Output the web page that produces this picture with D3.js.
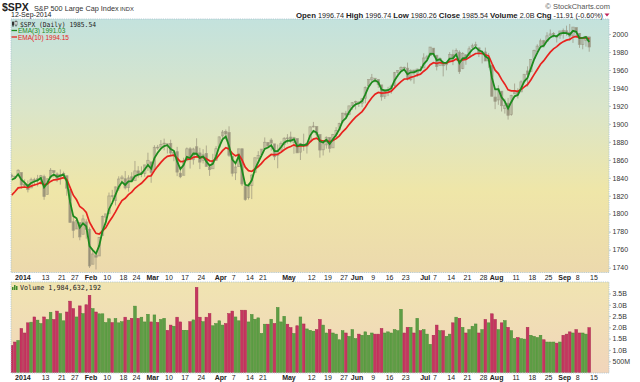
<!DOCTYPE html>
<html><head><meta charset="utf-8">
<script src="https://cdn.jsdelivr.net/npm/d3@7"></script>
<style>body{margin:0;background:#fff}svg{display:block}</style>
</head><body><svg id="c" width="640" height="382"></svg>
<script>
// ---------------- DATA ----------------
// closes before the visible window (used only to warm up the EMAs)
const warmupCloses = [1800.90,1795.15,1792.81,1785.03,1805.09,1808.37,1802.62,1782.22,1775.50,1775.32,1786.54,1781.00,1810.65,1809.60,1818.32,1827.99,1833.32,1842.02];

const dates = [
"2013-12-27","2013-12-30","2013-12-31",
"2014-01-02","2014-01-03","2014-01-06","2014-01-07","2014-01-08","2014-01-09","2014-01-10","2014-01-13","2014-01-14","2014-01-15","2014-01-16","2014-01-17","2014-01-21","2014-01-22","2014-01-23","2014-01-24","2014-01-27","2014-01-28","2014-01-29","2014-01-30","2014-01-31",
"2014-02-03","2014-02-04","2014-02-05","2014-02-06","2014-02-07","2014-02-10","2014-02-11","2014-02-12","2014-02-13","2014-02-14","2014-02-18","2014-02-19","2014-02-20","2014-02-21","2014-02-24","2014-02-25","2014-02-26","2014-02-27","2014-02-28",
"2014-03-03","2014-03-04","2014-03-05","2014-03-06","2014-03-07","2014-03-10","2014-03-11","2014-03-12","2014-03-13","2014-03-14","2014-03-17","2014-03-18","2014-03-19","2014-03-20","2014-03-21","2014-03-24","2014-03-25","2014-03-26","2014-03-27","2014-03-28","2014-03-31",
"2014-04-01","2014-04-02","2014-04-03","2014-04-04","2014-04-07","2014-04-08","2014-04-09","2014-04-10","2014-04-11","2014-04-14","2014-04-15","2014-04-16","2014-04-17","2014-04-21","2014-04-22","2014-04-23","2014-04-24","2014-04-25","2014-04-28","2014-04-29","2014-04-30",
"2014-05-01","2014-05-02","2014-05-05","2014-05-06","2014-05-07","2014-05-08","2014-05-09","2014-05-12","2014-05-13","2014-05-14","2014-05-15","2014-05-16","2014-05-19","2014-05-20","2014-05-21","2014-05-22","2014-05-23","2014-05-27","2014-05-28","2014-05-29","2014-05-30",
"2014-06-02","2014-06-03","2014-06-04","2014-06-05","2014-06-06","2014-06-09","2014-06-10","2014-06-11","2014-06-12","2014-06-13","2014-06-16","2014-06-17","2014-06-18","2014-06-19","2014-06-20","2014-06-23","2014-06-24","2014-06-25","2014-06-26","2014-06-27","2014-06-30",
"2014-07-01","2014-07-02","2014-07-03","2014-07-07","2014-07-08","2014-07-09","2014-07-10","2014-07-11","2014-07-14","2014-07-15","2014-07-16","2014-07-17","2014-07-18","2014-07-21","2014-07-22","2014-07-23","2014-07-24","2014-07-25","2014-07-28","2014-07-29","2014-07-30","2014-07-31",
"2014-08-01","2014-08-04","2014-08-05","2014-08-06","2014-08-07","2014-08-08","2014-08-11","2014-08-12","2014-08-13","2014-08-14","2014-08-15","2014-08-18","2014-08-19","2014-08-20","2014-08-21","2014-08-22","2014-08-25","2014-08-26","2014-08-27","2014-08-28","2014-08-29",
"2014-09-02","2014-09-03","2014-09-04","2014-09-05","2014-09-08","2014-09-09","2014-09-10","2014-09-11","2014-09-12"];
const futureDates = ["2014-09-15","2014-09-16","2014-09-17","2014-09-18","2014-09-19","2014-09-22"];

const opens = [
1842.97,1841.47,1842.61,
1845.86,1833.21,1832.31,1828.71,1837.90,1839.00,1840.06,1841.26,1821.36,1840.52,1847.99,1844.23,1841.05,1844.71,1842.29,1826.96,1791.03,1783.00,1790.15,1777.17,1790.88,
1782.68,1743.82,1753.38,1752.99,1776.01,1796.20,1800.45,1820.12,1814.82,1828.46,1839.03,1838.90,1829.24,1841.07,1836.78,1847.66,1845.79,1844.90,1855.12,
1857.68,1849.23,1874.05,1874.18,1878.52,1877.86,1878.26,1866.15,1869.06,1845.07,1842.81,1858.92,1872.25,1860.09,1874.53,1867.67,1859.48,1867.09,1852.11,1850.07,1859.16,
1873.96,1886.61,1891.43,1890.25,1863.92,1845.48,1852.64,1872.28,1830.65,1818.18,1831.45,1846.01,1861.73,1865.79,1872.57,1879.32,1881.97,1877.72,1865.00,1870.78,1877.10,
1884.39,1885.30,1879.45,1883.69,1868.53,1877.39,1875.27,1880.03,1896.75,1897.13,1888.16,1871.19,1876.66,1884.88,1873.34,1888.19,1893.32,1902.01,1911.77,1910.60,1920.33,
1923.87,1923.07,1923.06,1928.52,1942.41,1948.97,1950.34,1949.37,1943.35,1930.80,1934.84,1937.15,1942.73,1957.50,1960.45,1962.92,1961.97,1949.27,1959.89,1956.56,1960.79,
1962.29,1973.06,1975.88,1984.22,1976.39,1965.10,1966.67,1965.76,1969.86,1977.36,1976.35,1979.75,1961.54,1976.93,1975.65,1985.32,1988.07,1984.60,1978.25,1980.03,1973.21,1965.14,
1929.80,1926.62,1936.34,1917.29,1923.03,1910.35,1933.43,1935.73,1935.60,1947.41,1958.87,1958.36,1972.73,1980.46,1986.82,1992.60,1991.74,1998.59,2000.54,1997.42,1998.45,
2004.07,2003.57,2001.67,1998.00,2007.17,2000.73,1988.41,1992.85,1996.74];
const highs = [
1844.89,1842.47,1849.44,
1845.86,1838.24,1837.16,1840.10,1840.02,1843.23,1843.15,1843.45,1839.26,1850.84,1847.99,1846.04,1849.31,1846.87,1842.29,1826.96,1795.98,1793.87,1790.15,1798.77,1793.88,
1784.83,1758.73,1755.79,1774.06,1798.03,1799.94,1823.54,1826.55,1830.25,1841.65,1842.87,1847.50,1842.79,1846.13,1858.71,1852.91,1852.65,1854.53,1867.92,
1857.68,1876.23,1876.53,1881.94,1883.57,1877.87,1882.35,1868.38,1874.40,1852.44,1862.30,1873.76,1874.14,1873.49,1883.97,1873.34,1871.87,1875.92,1855.55,1866.63,1875.18,
1885.84,1893.17,1893.80,1897.28,1864.04,1854.95,1872.43,1872.53,1835.07,1834.19,1844.02,1862.31,1869.63,1871.89,1884.89,1879.75,1884.06,1877.72,1877.01,1880.60,1885.20,
1888.59,1891.33,1885.51,1883.69,1878.83,1889.07,1878.57,1897.13,1902.17,1897.13,1888.16,1878.28,1886.00,1884.88,1888.80,1896.33,1901.26,1912.28,1914.46,1920.03,1924.03,
1925.88,1925.07,1928.63,1941.74,1949.44,1955.55,1950.86,1949.37,1943.35,1937.30,1941.15,1943.69,1957.74,1959.87,1963.91,1963.74,1968.17,1960.83,1959.89,1961.47,1964.24,
1978.58,1976.67,1985.59,1984.22,1976.39,1974.15,1969.84,1968.67,1979.85,1982.52,1983.94,1981.80,1979.91,1976.93,1986.24,1989.23,1991.39,1984.60,1981.52,1984.85,1978.90,1965.14,
1937.35,1942.92,1936.34,1927.91,1928.89,1932.38,1944.90,1939.65,1948.41,1955.23,1964.04,1971.99,1982.57,1988.57,1994.76,1993.54,2001.95,2005.04,2002.14,1998.55,2003.38,
2006.12,2009.28,2011.17,2007.71,2007.17,2001.01,1996.66,1997.65,1996.74];
const lows = [
1839.81,1838.77,1842.41,
1827.74,1829.13,1823.73,1828.71,1831.40,1830.38,1832.43,1815.52,1821.36,1840.52,1840.30,1835.23,1832.38,1840.88,1820.06,1790.29,1772.88,1783.00,1770.45,1777.17,1772.26,
1739.66,1743.82,1737.92,1752.99,1776.01,1791.83,1800.41,1815.97,1809.22,1825.59,1835.01,1826.99,1824.58,1835.60,1836.78,1840.19,1840.66,1841.13,1847.67,
1834.44,1849.23,1871.11,1874.18,1870.56,1867.04,1863.88,1858.39,1841.86,1839.57,1842.81,1858.92,1850.35,1854.63,1863.46,1849.69,1855.96,1852.56,1842.11,1850.07,1859.16,
1873.96,1883.79,1882.65,1863.26,1841.48,1837.49,1852.38,1830.87,1814.36,1815.80,1816.29,1846.01,1856.72,1863.18,1872.57,1873.91,1870.24,1859.70,1850.61,1870.78,1872.69,
1878.04,1878.50,1866.77,1867.72,1859.79,1870.05,1867.02,1880.03,1896.06,1885.77,1862.36,1864.82,1872.42,1868.14,1873.34,1885.39,1893.32,1902.01,1907.30,1909.82,1915.65,
1915.98,1918.79,1918.60,1922.93,1942.41,1947.16,1946.03,1940.08,1925.78,1927.69,1930.91,1933.55,1939.29,1952.26,1959.17,1958.89,1948.34,1947.49,1944.69,1952.18,1958.22,
1962.29,1972.58,1975.88,1974.88,1959.46,1965.10,1952.86,1959.63,1969.86,1965.34,1975.67,1955.59,1960.82,1965.77,1975.65,1982.44,1985.79,1974.37,1967.31,1969.95,1962.42,1930.67,
1916.37,1921.20,1913.77,1911.45,1904.78,1909.01,1933.43,1928.29,1935.60,1947.41,1941.50,1958.36,1972.73,1977.68,1986.82,1984.76,1991.74,1998.59,1996.20,1990.52,1994.65,
1994.85,1998.14,1992.54,1990.10,1995.60,1984.61,1982.99,1985.93,1980.26];
const closes = [
1841.40,1841.07,1848.36,
1831.98,1831.37,1826.77,1837.88,1837.49,1838.13,1842.37,1819.20,1838.88,1848.38,1845.89,1838.70,1843.80,1844.86,1828.46,1790.29,1781.56,1792.50,1774.20,1794.19,1782.59,
1741.89,1755.20,1751.64,1773.43,1797.02,1799.84,1819.75,1819.26,1829.83,1838.63,1840.76,1828.75,1839.78,1836.25,1847.61,1845.12,1845.16,1854.29,1859.45,
1845.73,1873.91,1873.81,1877.03,1878.04,1877.17,1867.63,1868.20,1846.34,1841.13,1858.83,1872.25,1860.77,1872.01,1866.52,1857.44,1865.62,1852.56,1849.04,1857.62,1872.34,
1885.52,1890.90,1888.77,1865.09,1845.04,1851.96,1872.18,1833.08,1815.69,1830.61,1842.98,1862.31,1864.85,1871.89,1879.55,1875.39,1878.61,1863.40,1869.43,1878.33,1883.95,
1883.68,1881.14,1884.66,1867.72,1878.21,1875.63,1878.48,1896.65,1897.45,1888.53,1870.85,1877.86,1885.08,1872.83,1888.03,1892.49,1900.53,1911.91,1909.78,1920.03,1923.57,
1924.97,1924.24,1927.88,1940.46,1949.44,1951.27,1950.79,1943.89,1930.11,1936.16,1937.78,1941.99,1956.98,1959.48,1962.87,1962.61,1949.98,1959.53,1957.22,1960.96,1960.23,
1973.32,1974.62,1985.44,1977.65,1963.71,1972.83,1964.68,1967.57,1977.10,1973.28,1981.57,1958.12,1978.22,1973.63,1983.53,1987.01,1987.98,1978.34,1978.91,1969.95,1970.07,1930.67,
1925.15,1938.99,1920.21,1920.24,1909.57,1931.59,1936.92,1933.75,1946.72,1955.18,1955.06,1971.74,1981.60,1986.51,1992.37,1988.40,1997.92,2000.02,2000.12,1996.74,2003.37,
2002.28,2000.72,1997.65,2007.71,2001.54,1988.44,1995.69,1997.45,1985.54];
// volume in billions of shares
const volumes = [
1.20,1.35,1.42,
1.95,1.75,2.20,2.23,2.46,2.32,2.17,2.46,2.35,2.67,2.35,2.72,2.61,2.29,2.68,3.16,2.83,2.46,2.95,2.61,3.00,
3.42,2.83,2.68,2.60,2.60,2.21,2.38,2.21,2.39,2.20,2.25,2.45,2.32,2.40,2.94,2.40,2.45,2.24,2.58,
2.24,2.55,2.22,2.35,2.40,1.87,2.10,2.05,2.45,2.24,1.87,1.87,2.25,2.33,3.77,2.45,2.25,2.45,2.61,2.07,2.17,
2.29,2.10,2.17,2.61,2.72,2.46,2.29,2.76,2.76,2.24,2.57,2.36,2.42,1.73,2.14,2.14,2.36,2.17,2.88,2.24,2.49,
2.14,1.99,1.73,2.07,2.46,2.15,1.93,1.87,1.83,1.90,2.35,2.10,1.75,1.90,1.75,1.70,1.45,1.85,1.75,1.60,1.90,
1.50,1.70,1.65,1.80,1.65,1.75,1.70,1.70,1.95,1.75,1.80,1.75,1.90,1.85,2.80,1.75,2.00,2.00,1.75,2.40,1.85,
1.90,1.70,1.25,1.65,2.10,1.85,1.85,1.60,1.70,2.20,2.45,2.40,2.00,1.75,1.90,2.05,2.15,1.75,1.90,2.35,2.20,2.60,
2.35,1.90,2.20,2.30,2.00,1.85,1.50,1.55,1.50,1.48,2.00,1.65,1.60,1.55,1.65,1.45,1.35,1.35,1.35,1.30,1.35,
1.65,1.70,1.80,1.75,1.90,1.75,1.75,1.70,1.984632192];

const tickDates  = ["2014-01-02","2014-01-13","2014-01-21","2014-01-27","2014-02-03","2014-02-10","2014-02-18","2014-02-24","2014-03-03","2014-03-10","2014-03-17","2014-03-24","2014-04-01","2014-04-07","2014-04-14","2014-04-21","2014-05-01","2014-05-12","2014-05-19","2014-05-27","2014-06-02","2014-06-09","2014-06-16","2014-06-23","2014-07-01","2014-07-07","2014-07-14","2014-07-21","2014-07-28","2014-08-01","2014-08-11","2014-08-18","2014-08-25","2014-09-02","2014-09-08","2014-09-15"];
const tickLabels = ["2014","13","21","27","Feb","10","18","24","Mar","10","17","24","Apr","7","14","21","May","12","19","27","Jun","9","16","23","Jul","7","14","21","28","Aug","11","18","25","Sep","8","15"];
const priceTicks = [1740,1760,1780,1800,1820,1840,1860,1880,1900,1920,1940,1960,1980,2000];
const volTicks = [0.5,1.0,1.5,2.0,2.5,3.0,3.5];
const volTickLabels = ["500M","1.0B","1.5B","2.0B","2.5B","3.0B","3.5B"];

// ---------------- LAYOUT ----------------
const PX0 = 11, PX1 = 609;
const PY0 = 19, PY1 = 272.5;
const VY0 = 282, VY1 = 373;
const FONT = "'Liberation Sans', Arial, sans-serif";
const MONO = "'DejaVu Sans Mono', 'Liberation Mono', monospace";

const allDates = dates.concat(futureDates);
const idx = d => allDates.indexOf(d);

const x = d3.scaleLinear().domain([-0.2, 184.1]).range([PX0, PX1]);
const y = d3.scaleLinear().domain([1734.6, 2016.7]).range([PY1, PY0]);
const yv = d3.scaleLinear().domain([0, 4.0]).range([VY1 - 0.5, VY0 + 0.2]);

// EMAs from closes
function ema(arr, n) {
  const k = 2 / (n + 1), out = [];
  let prev = d3.mean(arr.slice(0, n));
  for (let i = 0; i < arr.length; i++) {
    if (i < n - 1) { out.push(null); continue; }
    if (i === n - 1) { out.push(prev); continue; }
    prev = arr[i] * k + prev * (1 - k);
    out.push(prev);
  }
  return out;
}
const full = warmupCloses.concat(closes);
const ema3 = ema(full, 3).slice(warmupCloses.length);
const ema10 = ema(full, 10).slice(warmupCloses.length);

const svg = d3.select("#c");
const defs = svg.append("defs");
const g1 = defs.append("linearGradient").attr("id","pg").attr("x1",0).attr("y1",0).attr("x2",0).attr("y2",1);
[[0,"#c3e2dd"],[0.35,"#dae5c9"],[0.68,"#efe6a8"],[1,"#ecd9ad"]].forEach(s=>g1.append("stop").attr("offset",s[0]).attr("stop-color",s[1]));
const g2 = defs.append("linearGradient").attr("id","vg").attr("x1",0).attr("y1",0).attr("x2",0).attr("y2",1);
[[0,"#f0e4b1"],[1,"#f1d5bb"]].forEach(s=>g2.append("stop").attr("offset",s[0]).attr("stop-color",s[1]));
defs.append("clipPath").attr("id","cp").append("rect").attr("x",PX0).attr("y",PY0).attr("width",PX1-PX0).attr("height",PY1-PY0);
defs.append("clipPath").attr("id","cv").append("rect").attr("x",PX0).attr("y",VY0).attr("width",PX1-PX0).attr("height",VY1-VY0);

// panels
svg.append("rect").attr("x",PX0).attr("y",PY0).attr("width",PX1-PX0).attr("height",PY1-PY0).attr("fill","url(#pg)");
svg.append("rect").attr("x",PX0).attr("y",VY0).attr("width",PX1-PX0).attr("height",VY1-VY0).attr("fill","url(#vg)");

// candles
const pc = svg.append("g").attr("clip-path","url(#cp)");
const cg = pc.selectAll("g.c").data(closes.map((c,i)=>({i,o:opens[i],h:highs[i],l:lows[i],c}))).join("g");
cg.append("line").attr("x1",d=>x(d.i)).attr("x2",d=>x(d.i)).attr("y1",d=>y(d.h)).attr("y2",d=>y(d.l))
  .attr("stroke","#958f7a").attr("stroke-width",0.9).attr("opacity",0.75);
cg.append("rect").attr("x",d=>x(d.i)-1.2).attr("width",2.4)
  .attr("y",d=>y(Math.max(d.o,d.c))).attr("height",d=>Math.max(0.8, Math.abs(y(d.o)-y(d.c))))
  .attr("fill",d=>d.c<d.o?"#8e8771":"none").attr("stroke","#958f7a").attr("stroke-width",0.7).attr("opacity",0.75);

// EMA lines
const line = d3.line().defined(d=>d.v!=null).x(d=>x(d.i)).y(d=>y(d.v));
pc.append("path").datum(ema10.map((v,i)=>({i,v}))).attr("d",line).attr("fill","none").attr("stroke","#e8221e").attr("stroke-width",1.7);
pc.append("path").datum(ema3.map((v,i)=>({i,v}))).attr("d",line).attr("fill","none").attr("stroke","#1d8a1d").attr("stroke-width",1.8);

// volume bars
const vc = svg.append("g").attr("clip-path","url(#cv)");
vc.selectAll("rect.v").data(volumes.map((v,i)=>({i,v,up: i===0 ? closes[0]>=warmupCloses[warmupCloses.length-1] : closes[i]>=closes[i-1]}))).join("rect")
  .attr("x",d=>x(d.i)-1.35).attr("width",2.7)
  .attr("y",d=>yv(d.v)).attr("height",d=>yv(0)-yv(d.v))
  .attr("fill",d=>d.up?"#5e9e45":"#c63560").attr("stroke",d=>d.up?"#4a8a34":"#a82a4e").attr("stroke-width",0.5);

// panel borders
[[PY0,PY1],[VY0,VY1]].forEach(([a,b])=>{
  svg.append("rect").attr("x",PX0).attr("y",a).attr("width",PX1-PX0).attr("height",b-a)
    .attr("fill","none").attr("stroke","#a9c4d2").attr("stroke-width",0.8).attr("stroke-dasharray","1.2,1");
});

// right axes
const ax1 = svg.append("g").attr("transform",`translate(${PX1},0)`).call(d3.axisRight(y).tickValues(priceTicks).tickSize(2).tickPadding(1.5).tickFormat(d3.format("d")));
const ax2 = svg.append("g").attr("transform",`translate(${PX1},0)`).call(d3.axisRight(yv).tickValues(volTicks).tickSize(2).tickPadding(1.5).tickFormat((d,i)=>volTickLabels[i]));
[ax1,ax2].forEach(a=>{
  a.select(".domain").remove();
  a.selectAll("line").attr("stroke","#8aa").attr("stroke-width",0.6);
  a.selectAll("text").attr("font-family",FONT).attr("font-size","7px").attr("fill","#333");
});

// date axes
[279.5, 379.5].forEach(by=>{
  svg.append("g").selectAll("text").data(tickDates.map((d,i)=>({d,t:tickLabels[i]}))).join("text")
    .attr("x",d=>x(idx(d.d))+1.5).attr("y",by).attr("text-anchor","middle")
    .attr("font-family",FONT).attr("font-size","7px")
    .attr("font-weight",d=>isNaN(+d.t)||d.t==="2014"?"bold":"normal").attr("fill","#222").text(d=>d.t);
});

// titles
svg.append("text").attr("x",2).attr("y",10.5).attr("font-family",FONT).attr("font-size","10.5px").attr("font-weight","bold").attr("fill","#222").text("$SPX");
svg.append("text").attr("x",34).attr("y",10.5).attr("font-family",FONT).attr("font-size","7.3px").attr("fill","#333").text("S&P 500 Large Cap Index");
svg.append("text").attr("x",120).attr("y",10.5).attr("font-family",FONT).attr("font-size","5.8px").attr("fill","#333").text("INDX");
svg.append("text").attr("x",11).attr("y",17).attr("font-family",FONT).attr("font-size","7px").attr("fill","#222").text("12-Sep-2014");
svg.append("text").attr("x",610).attr("y",8.5).attr("text-anchor","end").attr("font-family",FONT).attr("font-size","7.5px").attr("fill","#555").text("© StockCharts.com");

const hdr = svg.append("text").attr("x",603).attr("y",17.5).attr("text-anchor","end").attr("font-family",FONT).attr("font-size","7.2px").attr("fill","#222");
[["Open",1],[" 1996.74 ",0],["High",1],[" 1996.74 ",0],["Low",1],[" 1980.26 ",0],["Close",1],[" 1985.54 ",0],["Volume",1],[" 2.0B ",0],["Chg",1],[" -11.91 (-0.60%)",0]]
  .forEach(([t,b])=>hdr.append("tspan").attr("font-weight",b?"bold":"normal").attr("font-size",b?"7.8px":"7.2px").text(t));
svg.append("path").attr("d","M604.5,13.5 L609.5,13.5 L607,16.5 Z").attr("fill","#c0245a");

// price legend
const lg = svg.append("g");
lg.append("line").attr("x1",13).attr("x2",13).attr("y1",21).attr("y2",27).attr("stroke","#333").attr("stroke-width",0.8);
lg.append("rect").attr("x",12).attr("y",22).attr("width",2).attr("height",3.5).attr("fill","#333");
lg.append("line").attr("x1",16).attr("x2",16).attr("y1",20.5).attr("y2",26.5).attr("stroke","#333").attr("stroke-width",0.8);
lg.append("rect").attr("x",15).attr("y",21.5).attr("width",2).attr("height",3.5).attr("fill","#fff").attr("stroke","#333").attr("stroke-width",0.5);
lg.append("text").attr("x",20).attr("y",26.5).attr("font-family",MONO).attr("font-size","7px").attr("fill","#222")
  .attr("textLength",76).attr("lengthAdjust","spacingAndGlyphs").text("$SPX (Daily) 1985.54");
lg.append("line").attr("x1",11.5).attr("x2",17).attr("y1",30.5).attr("y2",30.5).attr("stroke","#1d8a1d").attr("stroke-width",1.3);
lg.append("text").attr("x",18).attr("y",33).attr("font-family",FONT).attr("font-size","6.5px").attr("fill","#1d8a1d").text("EMA(3) 1991.03");
lg.append("line").attr("x1",11.5).attr("x2",17).attr("y1",37).attr("y2",37).attr("stroke","#e8221e").attr("stroke-width",1.3);
lg.append("text").attr("x",18).attr("y",39.5).attr("font-family",FONT).attr("font-size","6.5px").attr("fill","#e8221e").text("EMA(10) 1994.15");

// volume legend
const vl = svg.append("g");
[[12,3],[14,5],[16,4]].forEach(([bx,bh])=>vl.append("rect").attr("x",bx).attr("y",290-bh).attr("width",1.5).attr("height",bh).attr("fill","#3e8a2a"));
vl.append("text").attr("x",20).attr("y",290).attr("font-family",MONO).attr("font-size","7px").attr("fill","#222")
  .attr("textLength",81).attr("lengthAdjust","spacingAndGlyphs").text("Volume 1,984,632,192");
</script></body></html>
